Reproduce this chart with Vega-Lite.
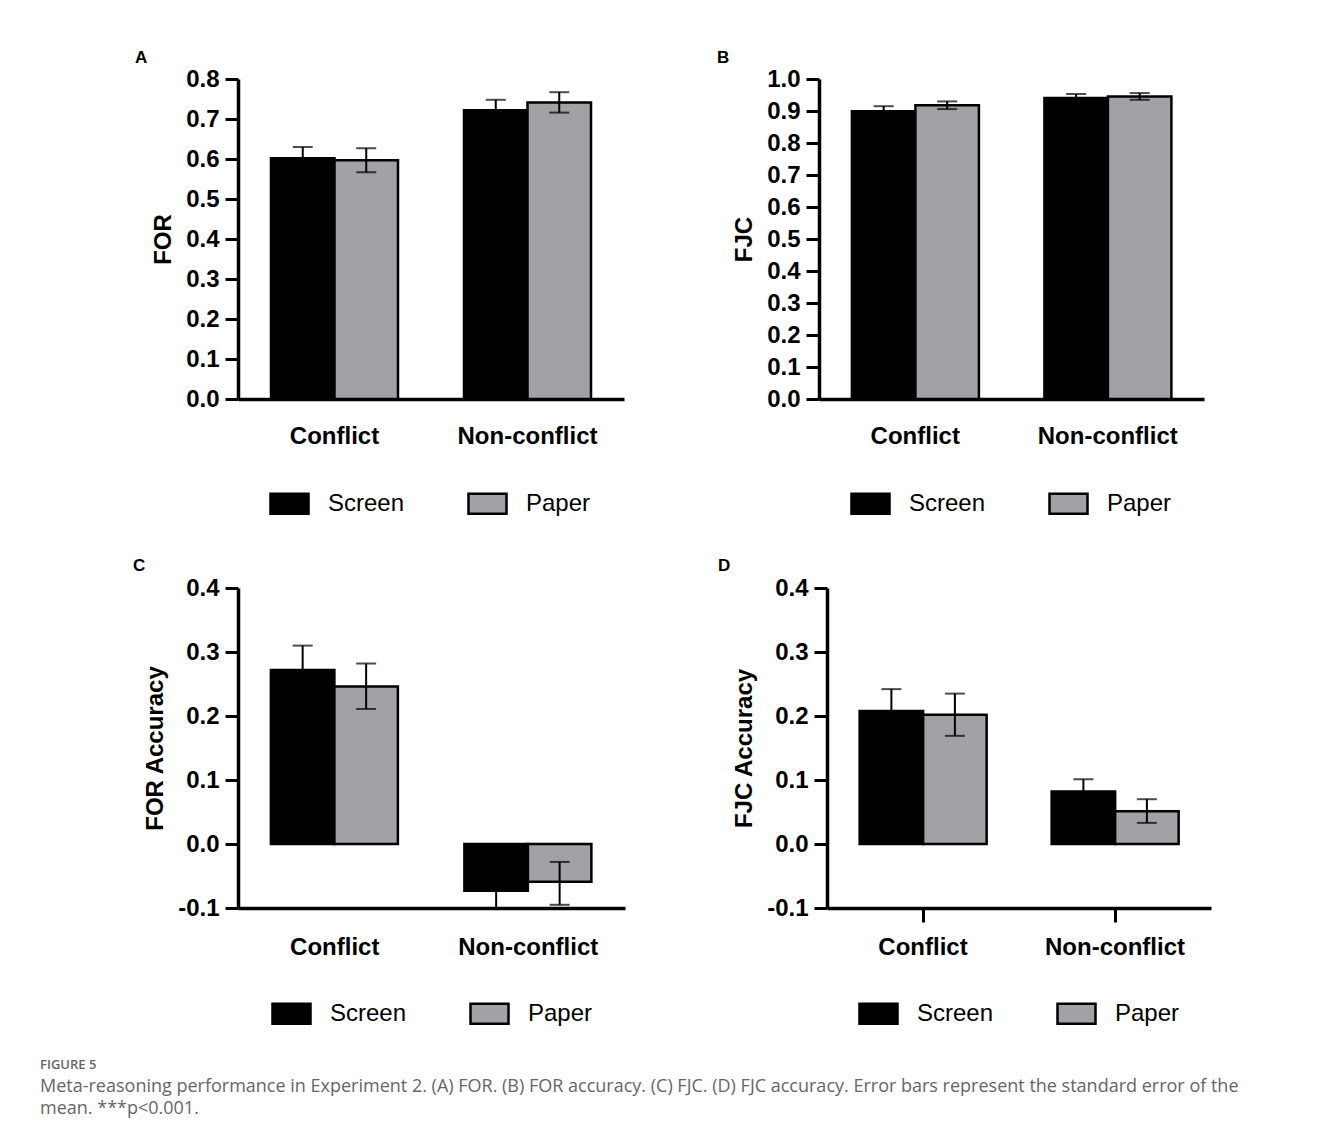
{
  "$schema": "https://vega.github.io/schema/vega-lite/v6.json",
  "padding": {"left": 40, "top": 49, "right": 5, "bottom": 5},
  "background": "white",
  "datasets": {
    "d": [
      {"panel": "A", "condition": "Conflict", "group": "Screen", "mean": 0.602, "lo": 0.574, "hi": 0.630},
      {"panel": "A", "condition": "Conflict", "group": "Paper", "mean": 0.597, "lo": 0.567, "hi": 0.627},
      {"panel": "A", "condition": "Non-conflict", "group": "Screen", "mean": 0.722, "lo": 0.696, "hi": 0.748},
      {"panel": "A", "condition": "Non-conflict", "group": "Paper", "mean": 0.741, "lo": 0.716, "hi": 0.767},
      {"panel": "B", "condition": "Conflict", "group": "Screen", "mean": 0.899, "lo": 0.883, "hi": 0.915},
      {"panel": "B", "condition": "Conflict", "group": "Paper", "mean": 0.918, "lo": 0.906, "hi": 0.930},
      {"panel": "B", "condition": "Non-conflict", "group": "Screen", "mean": 0.941, "lo": 0.929, "hi": 0.953},
      {"panel": "B", "condition": "Non-conflict", "group": "Paper", "mean": 0.945, "lo": 0.935, "hi": 0.956},
      {"panel": "C", "condition": "Conflict", "group": "Screen", "mean": 0.272, "lo": 0.234, "hi": 0.310},
      {"panel": "C", "condition": "Conflict", "group": "Paper", "mean": 0.246, "lo": 0.211, "hi": 0.282},
      {"panel": "C", "condition": "Non-conflict", "group": "Screen", "mean": -0.073, "lo": -0.105, "hi": -0.041},
      {"panel": "C", "condition": "Non-conflict", "group": "Paper", "mean": -0.059, "lo": -0.095, "hi": -0.028},
      {"panel": "D", "condition": "Conflict", "group": "Screen", "mean": 0.208, "lo": 0.174, "hi": 0.242},
      {"panel": "D", "condition": "Conflict", "group": "Paper", "mean": 0.202, "lo": 0.169, "hi": 0.235},
      {"panel": "D", "condition": "Non-conflict", "group": "Screen", "mean": 0.082, "lo": 0.063, "hi": 0.101},
      {"panel": "D", "condition": "Non-conflict", "group": "Paper", "mean": 0.051, "lo": 0.033, "hi": 0.070}
    ]
  },
  "title": {
    "text": "FIGURE 5",
    "subtitle": ["Meta-reasoning performance in Experiment 2. (A) FOR. (B) FOR accuracy. (C) FJC. (D) FJC accuracy. Error bars represent the standard error of the", "mean. ***p<0.001."],
    "orient": "bottom", "anchor": "start", "frame": "bounds", "dx": -93, "offset": 30,
    "font": "Open Sans", "fontSize": 13, "fontWeight": 600, "color": "#666666",
    "subtitleFont": "Open Sans", "subtitleFontSize": 18, "subtitleColor": "#666666", "subtitleFontWeight": 400,
    "subtitlePadding": 6, "subtitleLineHeight": 22
  },
  "spacing": 38,
  "resolve": {"scale": {"color": "independent"}, "legend": {"color": "independent"}},
  "vconcat": [
    {
      "spacing": 93,
      "resolve": {"scale": {"color": "independent"}, "legend": {"color": "independent"}},
      "hconcat": [
        {
          "width": 386, "height": 320,
          "title": {"text": "A", "dx": -103, "offset": 0},
          "data": {"name": "d"},
          "transform": [{"filter": "datum.panel == 'A'"}],
          "encoding": {
            "x": {"field": "condition", "type": "nominal", "sort": ["Conflict", "Non-conflict"], "scale": {"paddingInner": 0.342, "paddingOuter": 0.171}, "axis": {"title": null, "labelAngle": 0, "ticks": false, "labelPadding": 25}},
            "xOffset": {"field": "group", "type": "nominal", "sort": ["Screen", "Paper"], "scale": {"paddingInner": 0, "paddingOuter": 0}}
          },
          "layer": [
            {"mark": {"type": "bar", "stroke": "black", "strokeWidth": 2.5},
             "encoding": {
               "y": {"field": "mean", "type": "quantitative", "title": "FOR", "scale": {"domain": [0, 0.8], "nice": false}, "axis": {"values": [0, 0.1, 0.2, 0.3, 0.4, 0.5, 0.6, 0.7, 0.8], "format": ".1f", "labelOverlap": false}},
               "color": {"field": "group", "type": "nominal", "scale": {"domain": ["Screen", "Paper"], "range": ["#000000", "#a2a2a6"]}, "legend": {"title": null, "orient": "none", "direction": "horizontal", "legendX": 31, "legendY": 404}}
             }},
            {"mark": {"type": "rule", "color": "black", "strokeWidth": 2, "clip": true},
             "encoding": {"y": {"field": "lo", "type": "quantitative", "title": "FOR", "axis": {"values": [0, 0.1, 0.2, 0.3, 0.4, 0.5, 0.6, 0.7, 0.8], "format": ".1f", "labelOverlap": false}}, "y2": {"field": "hi"}}},
            {"mark": {"type": "tick", "orient": "horizontal", "color": "black", "size": 20, "thickness": 2, "clip": true},
             "encoding": {"y": {"field": "hi", "type": "quantitative", "title": "FOR", "axis": {"values": [0, 0.1, 0.2, 0.3, 0.4, 0.5, 0.6, 0.7, 0.8], "format": ".1f", "labelOverlap": false}}}},
            {"mark": {"type": "tick", "orient": "horizontal", "color": "black", "size": 20, "thickness": 2, "clip": true},
             "encoding": {"y": {"field": "lo", "type": "quantitative", "title": "FOR", "axis": {"values": [0, 0.1, 0.2, 0.3, 0.4, 0.5, 0.6, 0.7, 0.8], "format": ".1f", "labelOverlap": false}}}}
          ]
        },
        {
          "width": 385, "height": 320,
          "title": {"text": "B", "dx": -102, "offset": 0},
          "data": {"name": "d"},
          "transform": [{"filter": "datum.panel == 'B'"}],
          "encoding": {
            "x": {"field": "condition", "type": "nominal", "sort": ["Conflict", "Non-conflict"], "scale": {"paddingInner": 0.342, "paddingOuter": 0.171}, "axis": {"title": null, "labelAngle": 0, "ticks": false, "labelPadding": 25}},
            "xOffset": {"field": "group", "type": "nominal", "sort": ["Screen", "Paper"], "scale": {"paddingInner": 0, "paddingOuter": 0}}
          },
          "layer": [
            {"mark": {"type": "bar", "stroke": "black", "strokeWidth": 2.5},
             "encoding": {
               "y": {"field": "mean", "type": "quantitative", "title": "FJC", "scale": {"domain": [0, 1], "nice": false}, "axis": {"values": [0, 0.1, 0.2, 0.3, 0.4, 0.5, 0.6, 0.7, 0.8, 0.9, 1.0], "format": ".1f", "labelOverlap": false}},
               "color": {"field": "group", "type": "nominal", "scale": {"domain": ["Screen", "Paper"], "range": ["#000000", "#a2a2a6"]}, "legend": {"title": null, "orient": "none", "direction": "horizontal", "legendX": 31, "legendY": 404}}
             }},
            {"mark": {"type": "rule", "color": "black", "strokeWidth": 2, "clip": true},
             "encoding": {"y": {"field": "lo", "type": "quantitative", "title": "FJC", "axis": {"values": [0, 0.1, 0.2, 0.3, 0.4, 0.5, 0.6, 0.7, 0.8, 0.9, 1.0], "format": ".1f", "labelOverlap": false}}, "y2": {"field": "hi"}}},
            {"mark": {"type": "tick", "orient": "horizontal", "color": "black", "size": 20, "thickness": 2, "clip": true},
             "encoding": {"y": {"field": "hi", "type": "quantitative", "title": "FJC", "axis": {"values": [0, 0.1, 0.2, 0.3, 0.4, 0.5, 0.6, 0.7, 0.8, 0.9, 1.0], "format": ".1f", "labelOverlap": false}}}},
            {"mark": {"type": "tick", "orient": "horizontal", "color": "black", "size": 20, "thickness": 2, "clip": true},
             "encoding": {"y": {"field": "lo", "type": "quantitative", "title": "FJC", "axis": {"values": [0, 0.1, 0.2, 0.3, 0.4, 0.5, 0.6, 0.7, 0.8, 0.9, 1.0], "format": ".1f", "labelOverlap": false}}}}
          ]
        }
      ]
    },
    {
      "spacing": 93,
      "resolve": {"scale": {"color": "independent"}, "legend": {"color": "independent"}},
      "hconcat": [
        {
          "width": 387, "height": 320,
          "title": {"text": "C", "dx": -105, "offset": 1},
          "data": {"name": "d"},
          "transform": [{"filter": "datum.panel == 'C'"}],
          "encoding": {
            "x": {"field": "condition", "type": "nominal", "sort": ["Conflict", "Non-conflict"], "scale": {"paddingInner": 0.34, "paddingOuter": 0.17}, "axis": {"title": null, "labelAngle": 0, "ticks": false, "labelPadding": 27}},
            "xOffset": {"field": "group", "type": "nominal", "sort": ["Screen", "Paper"], "scale": {"paddingInner": 0, "paddingOuter": 0}}
          },
          "layer": [
            {"mark": {"type": "bar", "stroke": "black", "strokeWidth": 2.5},
             "encoding": {
               "y": {"field": "mean", "type": "quantitative", "title": "FOR Accuracy", "scale": {"domain": [-0.1, 0.4], "nice": false}, "axis": {"values": [-0.1, 0, 0.1, 0.2, 0.3, 0.4], "format": ".1f", "labelOverlap": false, "labelExpr": "replace(datum.label, '\u2212', '-')"}},
               "color": {"field": "group", "type": "nominal", "scale": {"domain": ["Screen", "Paper"], "range": ["#000000", "#a2a2a6"]}, "legend": {"title": null, "orient": "none", "direction": "horizontal", "legendX": 33, "legendY": 405}}
             }},
            {"mark": {"type": "rule", "color": "black", "strokeWidth": 3.5}, "encoding": {"y": {"datum": 0, "type": "quantitative", "title": "FOR Accuracy", "axis": {"values": [-0.1, 0, 0.1, 0.2, 0.3, 0.4], "format": ".1f", "labelOverlap": false, "labelExpr": "replace(datum.label, '\u2212', '-')"}}}},
            {"mark": {"type": "rule", "color": "black", "strokeWidth": 2, "clip": true},
             "encoding": {"y": {"field": "lo", "type": "quantitative", "title": "FOR Accuracy", "axis": {"values": [-0.1, 0, 0.1, 0.2, 0.3, 0.4], "format": ".1f", "labelOverlap": false, "labelExpr": "replace(datum.label, '\u2212', '-')"}}, "y2": {"field": "hi"}}},
            {"mark": {"type": "tick", "orient": "horizontal", "color": "black", "size": 20, "thickness": 2, "clip": true},
             "encoding": {"y": {"field": "hi", "type": "quantitative", "title": "FOR Accuracy", "axis": {"values": [-0.1, 0, 0.1, 0.2, 0.3, 0.4], "format": ".1f", "labelOverlap": false, "labelExpr": "replace(datum.label, '\u2212', '-')"}}}},
            {"mark": {"type": "tick", "orient": "horizontal", "color": "black", "size": 20, "thickness": 2, "clip": true},
             "encoding": {"y": {"field": "lo", "type": "quantitative", "title": "FOR Accuracy", "axis": {"values": [-0.1, 0, 0.1, 0.2, 0.3, 0.4], "format": ".1f", "labelOverlap": false, "labelExpr": "replace(datum.label, '\u2212', '-')"}}}}
          ]
        },
        {
          "width": 384, "height": 320,
          "title": {"text": "D", "dx": -109, "offset": 1},
          "data": {"name": "d"},
          "transform": [{"filter": "datum.panel == 'D'"}],
          "encoding": {
            "x": {"field": "condition", "type": "nominal", "sort": ["Conflict", "Non-conflict"], "scale": {"paddingInner": 0.34, "paddingOuter": 0.17}, "axis": {"title": null, "labelAngle": 0, "ticks": true, "tickSize": 14, "labelPadding": 13}},
            "xOffset": {"field": "group", "type": "nominal", "sort": ["Screen", "Paper"], "scale": {"paddingInner": 0, "paddingOuter": 0}}
          },
          "layer": [
            {"mark": {"type": "bar", "stroke": "black", "strokeWidth": 2.5},
             "encoding": {
               "y": {"field": "mean", "type": "quantitative", "title": "FJC Accuracy", "scale": {"domain": [-0.1, 0.4], "nice": false}, "axis": {"values": [-0.1, 0, 0.1, 0.2, 0.3, 0.4], "format": ".1f", "labelOverlap": false, "labelExpr": "replace(datum.label, '\u2212', '-')"}},
               "color": {"field": "group", "type": "nominal", "scale": {"domain": ["Screen", "Paper"], "range": ["#000000", "#a2a2a6"]}, "legend": {"title": null, "orient": "none", "direction": "horizontal", "legendX": 31, "legendY": 405}}
             }},
            {"mark": {"type": "rule", "color": "black", "strokeWidth": 3.5}, "encoding": {"y": {"datum": 0, "type": "quantitative", "title": "FJC Accuracy", "axis": {"values": [-0.1, 0, 0.1, 0.2, 0.3, 0.4], "format": ".1f", "labelOverlap": false, "labelExpr": "replace(datum.label, '\u2212', '-')"}}}},
            {"mark": {"type": "rule", "color": "black", "strokeWidth": 2, "clip": true},
             "encoding": {"y": {"field": "lo", "type": "quantitative", "title": "FJC Accuracy", "axis": {"values": [-0.1, 0, 0.1, 0.2, 0.3, 0.4], "format": ".1f", "labelOverlap": false, "labelExpr": "replace(datum.label, '\u2212', '-')"}}, "y2": {"field": "hi"}}},
            {"mark": {"type": "tick", "orient": "horizontal", "color": "black", "size": 20, "thickness": 2, "clip": true},
             "encoding": {"y": {"field": "hi", "type": "quantitative", "title": "FJC Accuracy", "axis": {"values": [-0.1, 0, 0.1, 0.2, 0.3, 0.4], "format": ".1f", "labelOverlap": false, "labelExpr": "replace(datum.label, '\u2212', '-')"}}}},
            {"mark": {"type": "tick", "orient": "horizontal", "color": "black", "size": 20, "thickness": 2, "clip": true},
             "encoding": {"y": {"field": "lo", "type": "quantitative", "title": "FJC Accuracy", "axis": {"values": [-0.1, 0, 0.1, 0.2, 0.3, 0.4], "format": ".1f", "labelOverlap": false, "labelExpr": "replace(datum.label, '\u2212', '-')"}}}}
          ]
        }
      ]
    }
  ],
  "config": {
    "view": {"stroke": null},
    "font": "Liberation Sans",
    "title": {"anchor": "start", "frame": "group", "font": "Liberation Sans", "fontSize": 17, "fontWeight": "bold", "color": "black", "offset": 0},
    "axis": {
      "grid": false,
      "domainColor": "black", "domainWidth": 3.5,
      "tickColor": "black", "tickWidth": 3, "tickSize": 13,
      "labelFont": "Liberation Sans", "labelFontWeight": "bold", "labelFontSize": 24, "labelColor": "black", "labelPadding": 6,
      "titleFont": "Liberation Sans", "titleFontWeight": "bold", "titleFontSize": 24, "titleColor": "black", "titlePadding": 10
    },
    "axisX": {"labelFontSize": 24},
    "legend": {
      "symbolType": "M-1,-0.526H1V0.526H-1Z", "symbolSize": 1444,
      "symbolStrokeColor": "black", "symbolStrokeWidth": 2.5,
      "labelFont": "Liberation Sans", "labelFontSize": 24, "labelColor": "black", "labelOffset": 18,
      "columnPadding": 58
    }
  }
}
